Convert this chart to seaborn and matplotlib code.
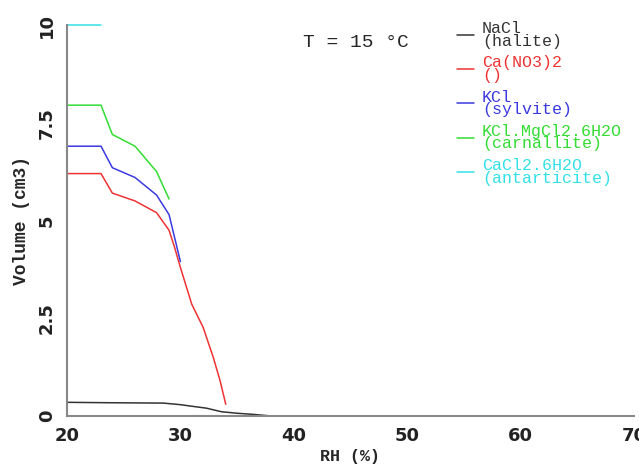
import pandas as pd
import matplotlib.pyplot as plt
import seaborn as sns

# values
nacl_rh = [20, 23.5, 28.5, 30, 31, 32.3, 33.6, 35, 36.5, 38]
nacl_vol = [0.35, 0.34, 0.33, 0.29, 0.25, 0.2, 0.11, 0.07, 0.04, 0.0]

cano3_rh = [20, 23, 24, 26, 27.9, 29, 29.5, 30, 31, 32, 32.9, 33.5, 34]
cano3_vol = [6.2, 6.2, 5.7, 5.5, 5.2, 4.75, 4.3, 3.8, 2.86, 2.27, 1.5, 0.9, 0.3]

kcl_rh = [20, 23, 24, 26, 27.9, 29, 30]
kcl_vol = [6.9, 6.9, 6.35, 6.1, 5.65, 5.15, 3.95]

carn_rh = [20, 23, 24, 26, 27.9, 29]
carn_vol = [7.95, 7.95, 7.2, 6.9, 6.25, 5.55]

anta_rh = [20, 23]
anta_vol = [10, 10]

labels = ["NaCl\n(halite)", "Ca(NO3)2\n()", "KCl\n(sylvite)",
          "KCl.MgCl2.6H2O\n(carnallite)", "CaCl2.6H2O\n(antarticite)"]
colors = ["#333333", "#ee3333", "#3a3ae0", "#33dd33", "#33e0e8"]

series = [(nacl_rh, nacl_vol), (cano3_rh, cano3_vol), (kcl_rh, kcl_vol),
          (carn_rh, carn_vol), (anta_rh, anta_vol)]
frames = []
for lab, (rh, vol) in zip(labels, series):
    frames.append(pd.DataFrame({"RH": rh, "Volume": vol, "mineral": lab}))
df = pd.concat(frames, ignore_index=True)

sns.set_style("white")
mono = "Liberation Mono"

fig = plt.figure(figsize=(6.39, 4.67), dpi=100)
ax = fig.add_axes([67 / 639, 51 / 467, 567 / 639, 391 / 467])

sns.lineplot(data=df, x="RH", y="Volume", hue="mineral", palette=dict(zip(labels, colors)),
             estimator=None, sort=False, linewidth=1.1, ax=ax)
for line in ax.get_lines():
    line.set_clip_on(False)

ax.set_xlim(20, 70)
ax.set_ylim(0, 10)
ax.set_xticks([20, 30, 40, 50, 60, 70])
ax.set_yticks([0, 2.5, 5, 7.5, 10])
ax.set_yticklabels(["0", "2.5", "5", "7.5", "10"], rotation=90, va="center")
ax.tick_params(direction="in", length=3, color="#888888", labelsize=13, pad=8)
for t in ax.get_xticklabels() + ax.get_yticklabels():
    t.set_fontweight("bold")
    t.set_color("#222222")

for s in ["top", "right"]:
    ax.spines[s].set_visible(False)
for s in ["left", "bottom"]:
    ax.spines[s].set_color("#888888")
    ax.spines[s].set_linewidth(1.5)

ax.set_xlabel("RH (%)", family=mono, fontweight="bold", fontsize=12, labelpad=3)
ax.set_ylabel("Volume (cm3)", family=mono, fontweight="bold", fontsize=13, labelpad=6)

ax.text(0.51, 0.955, "T = 15 °C", transform=ax.transAxes, family=mono, fontsize=14,
        ha="center", va="center")

leg = ax.legend(loc="upper left", bbox_to_anchor=(457 / 639, 1 - 21 / 467),
                bbox_transform=fig.transFigure, frameon=False, prop={"family": mono, "size": 12},
                handlelength=1.0, handletextpad=0.5, labelspacing=0.4,
                borderpad=0, borderaxespad=0)
for txt, c in zip(leg.get_texts(), colors):
    txt.set_color(c)
    txt.set_linespacing(0.8)

fig.savefig("out.png", dpi=100)
